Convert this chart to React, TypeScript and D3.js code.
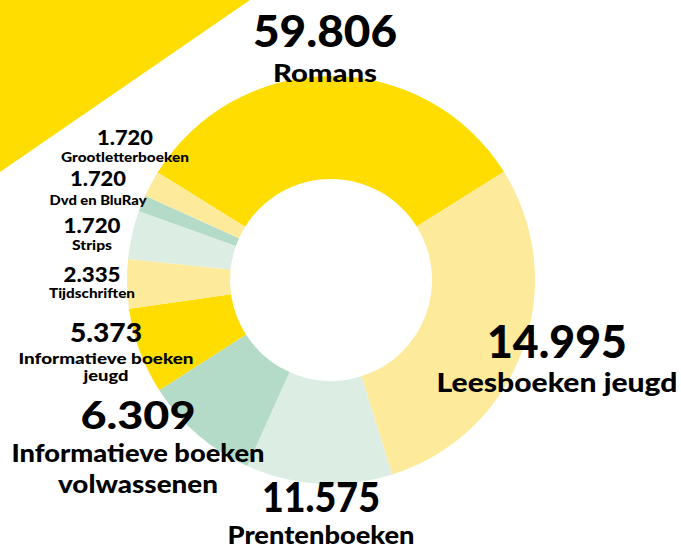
import React from "react";
import * as d3 from "d3";

// Categories in clockwise order starting from the top-left boundary of "Romans"
const categories = [
  "Romans",
  "Leesboeken jeugd",
  "Prentenboeken",
  "Informatieve boeken volwassenen",
  "Informatieve boeken jeugd",
  "Tijdschriften",
  "Strips",
  "Dvd en BluRay",
  "Grootletterboeken",
];
// Printed values
const values = [59806, 14995, 11575, 6309, 5373, 2335, 1720, 1720, 1720];
// Slice sizes as drawn in the picture (degrees of arc)
const sliceSizes = [116.2, 104.6, 41.7, 33.1, 24.6, 14, 13.8, 4.7, 7.4];
const sliceColors = [
  "#FFDD00",
  "#FEEA9B",
  "#DCEEE3",
  "#B3DBC8",
  "#FFDD00",
  "#FEEA9B",
  "#DCEEE3",
  "#B3DBC8",
  "#FEEA9B",
];
// Label text lines per category
const labelLines = [
  ["Romans"],
  ["Leesboeken jeugd"],
  ["Prentenboeken"],
  ["Informatieve boeken", "volwassenen"],
  ["Informatieve boeken", "jeugd"],
  ["Tijdschriften"],
  ["Strips"],
  ["Dvd en BluRay"],
  ["Grootletterboeken"],
];

// Layout of labels: center x, number baseline / size / width, label baselines / size / widths
const labelLayout = [
  { x: 325, ny: 47, ns: 44, nw: 144, ly: [82], ls: 24, lw: [104] },
  { x: 557, ny: 358, ns: 46, nw: 140, ly: [392], ls: 26, lw: [241] },
  { x: 321, ny: 512, ns: 41, nw: 118, ly: [544], ls: 25, lw: [187] },
  { x: 138, ny: 429, ns: 38, nw: 115, ly: [462, 493], ls: 24, lw: [253, 160] },
  { x: 106, ny: 342, ns: 26, nw: 72, ly: [364, 381], ls: 15.5, lw: [175, 45] },
  { x: 92, ny: 282, ns: 21, nw: 57, ly: [298], ls: 14, lw: [86] },
  { x: 92, ny: 233, ns: 21, nw: 57, ly: [250], ls: 14, lw: [40] },
  { x: 98, ny: 186, ns: 20, nw: 56, ly: [205], ls: 14, lw: [97] },
  { x: 125, ny: 145, ns: 21, nw: 56, ly: [162], ls: 14, lw: [128] },
];

const W = 681;
const H = 548;
const cx = 331;
const cy = 280;
const outerR = 204;
const innerR = 101;
const startDeg = -58.2;

const fmt = (v: number) => d3.format(",")(v).replace(/,/g, ".");

export default function App() {
  React.useEffect(() => {
    document.body.style.margin = "0";
  }, []);

  const toRad = (deg: number) => (deg * Math.PI) / 180;
  const pie = d3
    .pie<number>()
    .sort(null)
    .value((d) => d)
    .startAngle(toRad(startDeg))
    .endAngle(toRad(startDeg + 360));
  const arcs = pie(sliceSizes);
  const arc = d3.arc<d3.PieArcDatum<number>>().innerRadius(innerR).outerRadius(outerR);

  const font = "Lato, 'Open Sans', sans-serif";

  return (
    <svg
      width={W}
      height={H}
      viewBox={`0 0 ${W} ${H}`}
      style={{ position: "absolute", left: 0, top: 0, background: "#ffffff" }}
    >
      <polygon points="0,0 250,0 0,172" fill="#FFDD00" />
      <g transform={`translate(${cx},${cy})`}>
        {arcs.map((a, i) => (
          <path key={categories[i]} d={arc(a) || ""} fill={sliceColors[i]} />
        ))}
      </g>
      {labelLayout.map((l, i) => (
        <g key={"lbl" + i} fontFamily={font} fontWeight={900} fill="#000" textAnchor="middle">
          <text
            x={l.x}
            y={l.ny}
            fontSize={l.ns}
            textLength={l.nw}
            lengthAdjust="spacingAndGlyphs"
          >
            {fmt(values[i])}
          </text>
          {labelLines[i].map((line, j) => (
            <text
              key={j}
              x={l.x}
              y={l.ly[j]}
              fontSize={l.ls}
              textLength={l.lw[j]}
              lengthAdjust="spacingAndGlyphs"
            >
              {line}
            </text>
          ))}
        </g>
      ))}
    </svg>
  );
}
